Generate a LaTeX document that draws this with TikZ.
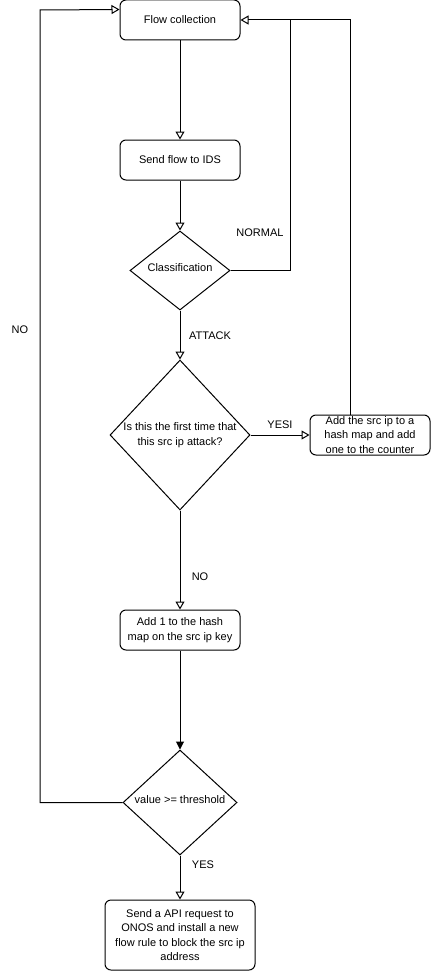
\documentclass[tikz,border=0pt]{standalone}
\usepackage{fontspec}
\setmainfont{Liberation Sans}
\usetikzlibrary{shapes.geometric,arrows.meta,calc}
\tikzset{
  box/.style={draw, rounded corners=6pt, line width=1pt, inner sep=0pt, align=center},
  dia/.style={draw, diamond, line width=1pt, inner sep=0pt},
  lbl/.style={inner sep=0pt, align=center},
  conn/.style={line width=1pt, -{Triangle[open, length=8pt, width=9pt]}},
  connf/.style={line width=1pt, -{Triangle[length=8pt, width=8pt]}},
  plain/.style={line width=1pt},
}
\begin{document}
\begin{tikzpicture}[x=1pt,y=-1pt,font=\fontsize{11}{14.5}\selectfont]
\useasboundingbox (0,0) rectangle (432,971);
% boxes
\node[box, minimum width=120pt, minimum height=40pt] (fc) at (180,20) {Flow collection};
\node[box, minimum width=120pt, minimum height=40pt] (ids) at (180,160) {Send flow to IDS};
\node[dia, minimum width=100pt, minimum height=79pt] (cls) at (180,270.5) {};
\node[lbl] (clst) at (180,268) {Classification};
\node[dia, minimum width=140pt, minimum height=150pt] (first) at (180,435) {};
\node[lbl] (firstt) at (180,435) {Is this the first time that\\this src ip attack?};
\node[box, minimum width=120pt, minimum height=40pt] (addip) at (370,435) {Add the src ip to a\\hash map and add\\one to the counter};
\node[box, minimum width=120pt, minimum height=40pt] (add1) at (180,630) {Add 1 to the hash\\map on the src ip key};
\node[dia, minimum width=114pt, minimum height=105pt] (thr) at (180,802.5) {};
\node[lbl] (thrt) at (180,800) {value >= threshold};
\node[box, minimum width=150pt, minimum height=70pt] (api) at (180,935) {Send a API request to\\ONOS and install a new\\flow rule to block the src ip\\address};
% helper coordinates
\coordinate (n1) at (290,20);
\coordinate (n2) at (40,10);
\coordinate (n3) at (350,20);
% connectors
\draw[conn] (fc.south) -- (ids.north);
\draw[conn] (ids.south) -- (cls.north);
\draw[conn] (cls.east) -| (n1) -- (fc.east);
\draw[plain] (addip.north -| n3) -- (n3) -- (n1);
\draw[conn] (cls.south) -- (first.north);
\draw[conn] (first.east) -- (addip.west);
\draw[conn] (first.south) -- (add1.north);
\draw[connf] (add1.south) -- (thr.north);
\draw[conn] (thr.west) -| (n2) -- ($(fc.north west)+(0,10)$);
\draw[conn] (thr.south) -- (api.north);
% labels
\node[lbl] (lnormal) at (260,233) {NORMAL};
\node[lbl] (lattack) at (210,336) {ATTACK};
\node[lbl] (lyesi) at (280,425) {YESI};
\node[lbl] (lno1) at (200,577) {NO};
\node[lbl] (lyes) at (203,865) {YES};
\node[lbl] (lno2) at (20,330) {NO};
\end{tikzpicture}
\end{document}
